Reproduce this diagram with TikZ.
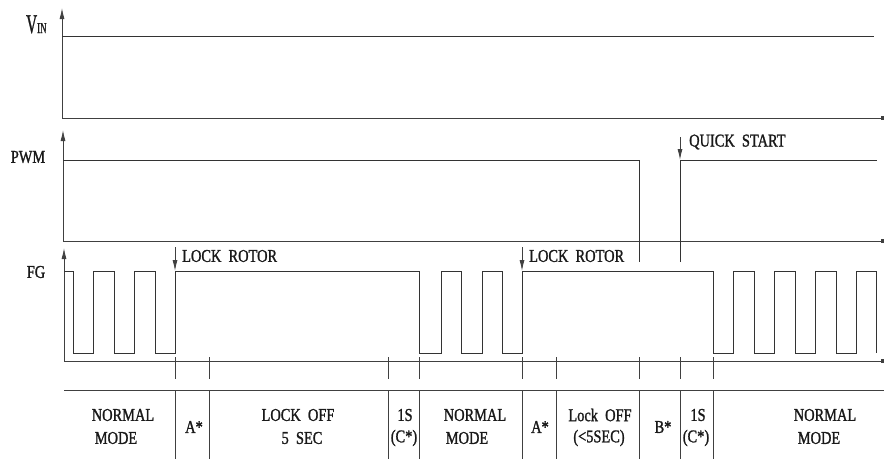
\documentclass[tikz,border=0pt]{standalone}
\usepackage{fontspec}
\setmainfont{Liberation Serif}[FakeStretch=0.8,FakeBold=1.3]
\usetikzlibrary{arrows.meta}
\begin{document}
\begin{tikzpicture}[x=1pt,y=-1pt,
  ln/.style={draw=black!75, line width=0.9pt},
  sig/.style={draw=black!80, line width=1pt},
  lbl/.style={font=\fontsize{18}{20}\selectfont, text=black!90, inner sep=0pt},
  axarr/.style={-{Latex[length=11pt,width=5pt]}},
  endarr/.style={-{Square[length=3.5pt,width=3.5pt]}}]
\useasboundingbox (0,0) rectangle (884,459);
% ---------- VIN ----------
\coordinate (vinO) at (62,118);
\coordinate (vinT) at (62,8);
\coordinate (vinE) at (884,118);
\draw[ln,axarr] (vinO) -- (vinT);
\draw[ln,endarr] (vinO) -- (vinE);
\draw[sig] (62,36) -- (874,36);
\node[lbl, anchor=base west] (vin) at (26,33) {\scalebox{0.7}[1]{\fontsize{27}{28}\selectfont V}\scalebox{0.75}[1]{\fontsize{15}{16}\selectfont IN}};
% ---------- PWM ----------
\coordinate (pwmO) at (63,241);
\coordinate (pwmT) at (63,130);
\coordinate (pwmE) at (884,241);
\draw[ln,axarr] (pwmO) -- (pwmT);
\draw[ln,endarr] (pwmO) -- (pwmE);
\draw[sig] (63,160) -- (639,160) -- (639,262);
\draw[sig] (680,262) -- (680,160) -- (877,160);
\coordinate (qsA) at (680,137);
\coordinate (qsB) at (680,160);
\draw[ln,-{Latex[length=11pt,width=5pt]}] (qsA) -- (qsB);
\node[lbl] (pwm) at (28,157) {PWM};
\node[lbl, anchor=west] (qs) at (689,142) {QUICK\ \ START};
% ---------- FG ----------
\coordinate (fgO) at (64,361);
\coordinate (fgT) at (64,248);
\coordinate (fgE) at (884,361);
\draw[ln,axarr] (fgO) -- (fgT);
\draw[ln,endarr] (fgO) -- (fgE);
\draw[sig] (64,271) -- (73,271) -- (73,353) -- (93,353) -- (93,271) -- (114,271) -- (114,353) -- (134,353) -- (134,271) -- (155,271) -- (155,353) -- (175,353) -- (175,271)
  -- (419,271) -- (419,353) -- (441,353) -- (441,271) -- (461,271) -- (461,353) -- (482,353) -- (482,271) -- (502,271) -- (502,353) -- (522,353) -- (522,271)
  -- (713,271) -- (713,353) -- (733,353) -- (733,271) -- (754,271) -- (754,353) -- (774,353) -- (774,271) -- (795,271) -- (795,353) -- (815,353) -- (815,271) -- (836,271) -- (836,353) -- (856,353) -- (856,271) -- (876,271) -- (876,353);
\coordinate (lr1A) at (175,247);
\coordinate (lr1B) at (175,271);
\coordinate (lr2A) at (522,247);
\coordinate (lr2B) at (522,271);
\draw[ln,-{Latex[length=11pt,width=5pt]}] (lr1A) -- (lr1B);
\draw[ln,-{Latex[length=11pt,width=5pt]}] (lr2A) -- (lr2B);
\node[lbl, anchor=west] (lr1) at (182,256) {LOCK\ \ ROTOR};
\node[lbl, anchor=west] (lr2) at (529,256) {LOCK\ \ ROTOR};
\node[lbl] (fg) at (36,272) {FG};
% ---------- ticks and table ----------
\foreach \x in {175,209,388,419,522,556,639,680,713}{
  \draw[ln] (\x,357) -- (\x,379);
  \draw[ln] (\x,390) -- (\x,459);
}
\coordinate (sepL) at (64,390);
\coordinate (sepR) at (884,390);
\draw[ln] (sepL) -- (sepR);
\node[lbl] (n1a) at (123,415) {NORMAL};
\node[lbl] (n1b) at (116,438) {MODE};
\node[lbl] (a1) at (194,427) {A*};
\node[lbl] (l1a) at (298,415) {LOCK\ \ OFF};
\node[lbl] (l1b) at (302,438) {5\ \ SEC};
\node[lbl] (s1a) at (405,415) {1S};
\node[lbl] (s1b) at (404,438) {(C*)};
\node[lbl] (n2a) at (475,415) {NORMAL};
\node[lbl] (n2b) at (467,438) {MODE};
\node[lbl] (a2) at (540,427) {A*};
\node[lbl] (l2a) at (600,415) {Lock\ \ OFF};
\node[lbl] (l2b) at (599,438) {(<5SEC)};
\node[lbl] (b1) at (663,427) {B*};
\node[lbl] (s2a) at (698,415) {1S};
\node[lbl] (s2b) at (696,438) {(C*)};
\node[lbl] (n3a) at (825,415) {NORMAL};
\node[lbl] (n3b) at (819,438) {MODE};
\end{tikzpicture}
\end{document}
